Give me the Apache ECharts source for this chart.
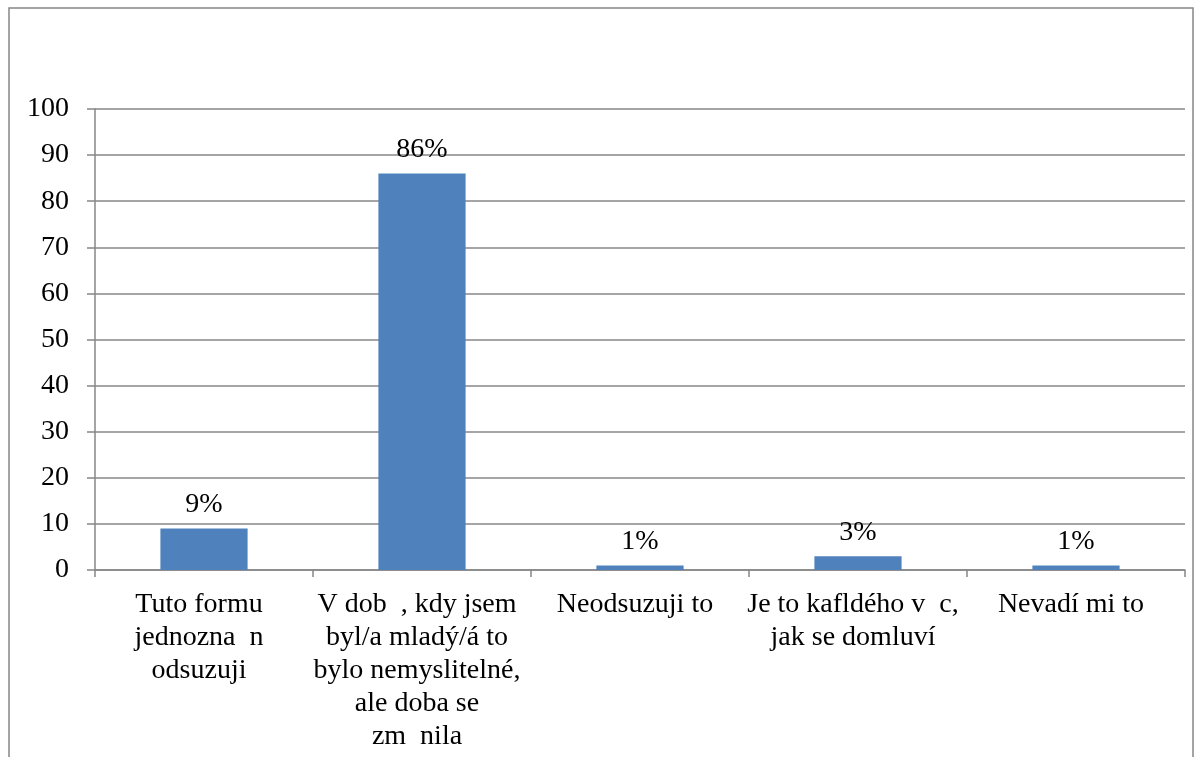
<!DOCTYPE html>
<html>
<head>
<meta charset="utf-8">
<script src="https://cdn.jsdelivr.net/npm/echarts@6/dist/echarts.min.js"></script>
<style>html,body{margin:0;padding:0;background:#fff;}#c{width:1202px;height:757px;}</style>
</head>
<body>
<div id="c"></div>
<script>
const categories = [
  "Tuto formu\njednozna  n\nodsuzuji",
  "V dob  , kdy jsem\nbyl/a mladý/á to\nbylo nemyslitelné,\nale doba se\nzm  nila",
  "Neodsuzuji to",
  "Je to kafldého v  c,\njak se domluví",
  "Nevadí mi to"
];
const values = [9, 86, 1, 3, 1];
const valueLabels = ["9%", "86%", "1%", "3%", "1%"];
const yTicks = [0, 10, 20, 30, 40, 50, 60, 70, 80, 90, 100];

const font = "'Liberation Serif', 'Times New Roman', serif";
const gray = '#878787';
const chart = echarts.init(document.getElementById('c'), null, {renderer: 'canvas'});
chart.setOption({
  animation: false,
  backgroundColor: '#fff',
  graphic: [{
    type: 'rect',
    shape: {x: 9, y: 8, width: 1184, height: 800},
    style: {fill: 'none', stroke: gray, lineWidth: 1.5},
    silent: true
  }],
  grid: {left: 95, right: 17, top: 109, bottom: 187, containLabel: false},
  xAxis: {
    type: 'category',
    data: categories,
    boundaryGap: true,
    axisLine: {show: true, lineStyle: {color: gray, width: 1.5}},
    axisTick: {show: true, length: 7, alignWithLabel: false, lineStyle: {color: gray, width: 1.5}},
    axisLabel: {
      interval: 0,
      color: '#000',
      fontFamily: font,
      fontSize: 28,
      lineHeight: 33,
      margin: 18,
      align: 'center',
      padding: [0, 10, 0, 0]
    },
    splitLine: {show: false}
  },
  yAxis: {
    type: 'value',
    min: 0,
    max: 100,
    interval: 10,
    axisLine: {show: true, lineStyle: {color: gray, width: 1.5}},
    axisTick: {show: true, length: 8, lineStyle: {color: gray, width: 1.5}},
    axisLabel: {
      color: '#000',
      fontFamily: font,
      fontSize: 28,
      margin: 26,
      formatter: function (v) { return yTicks.indexOf(v) >= 0 ? String(v) : ''; }
    },
    splitLine: {show: true, lineStyle: {color: gray, width: 1.5}}
  },
  series: [{
    type: 'bar',
    data: values,
    barWidth: '40%',
    itemStyle: {color: '#4F81BD'},
    label: {
      show: true,
      position: 'top',
      distance: 10,
      color: '#000',
      fontFamily: font,
      fontSize: 28,
      formatter: function (p) { return valueLabels[p.dataIndex]; }
    }
  }]
});
</script>
</body>
</html>
